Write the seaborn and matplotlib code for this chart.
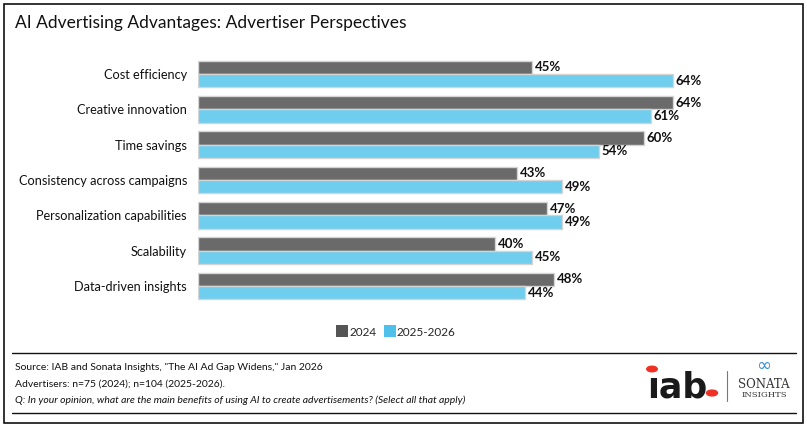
import pandas as pd
import matplotlib.pyplot as plt
import seaborn as sns
from matplotlib.patches import Rectangle, Circle
from matplotlib.lines import Line2D

# Data
benefits = ["Cost efficiency", "Creative innovation", "Time savings",
            "Consistency across campaigns", "Personalization capabilities",
            "Scalability", "Data-driven insights"]
years = ["2024", "2025-2026"]
values_2024 = [45, 64, 60, 43, 47, 40, 48]
values_2025 = [64, 61, 54, 49, 49, 45, 44]

df = pd.DataFrame({
    "benefit": benefits * 2,
    "year": [years[0]] * len(benefits) + [years[1]] * len(benefits),
    "value": values_2024 + values_2025,
})

gray = "#6a6a6a"
blue = "#6fcdee"

sns.set_theme(style="white")
plt.rcParams['font.family'] = ['Lato', 'DejaVu Sans']

fig = plt.figure(figsize=(8.07, 4.28), dpi=100)
ax = fig.add_axes([0.2454, 0.2904, 0.736, 0.578])

sns.barplot(data=df, y="benefit", x="value", hue="year", orient="h",
            palette=[gray, blue], saturation=1, width=0.76, edgecolor="#d4d4d4",
            linewidth=1, legend=False, ax=ax)

for cont in ax.containers:
    ax.bar_label(cont, fmt="%d%%", padding=2, fontsize=9.5, fontweight="bold",
                 color="#111111")

ax.set_xlim(0, 80)
ax.set_ylim(6.5, -0.5)
ax.set_xlabel("")
ax.set_ylabel("")
ax.set_xticks([])
ax.tick_params(axis="y", length=0, pad=8, labelsize=9.2, labelcolor="#111111")
sns.despine(ax=ax, left=True, bottom=True, top=True, right=True)

# Title
fig.text(15 / 807, 1 - 23 / 428, "AI Advertising Advantages: Advertiser Perspectives",
         fontsize=12.5, color="#111111", va="center", ha="left")

# Legend
handles = [Line2D([0], [0], marker="s", color="w", markerfacecolor=c,
                  markersize=8, markeredgewidth=0) for c in ["#555555", "#4fc0ea"]]
fig.legend(handles, years, loc="center", bbox_to_anchor=(396 / 807, 1 - 332 / 428),
           ncol=2, frameon=False, fontsize=8.5, handletextpad=0.1,
           columnspacing=0.6, handlelength=1.0)

# Outer border
fig.patches.append(Rectangle((4 / 807, 5 / 428), 799 / 807, 419 / 428,
                             transform=fig.transFigure, fill=False,
                             edgecolor="#111111", linewidth=1.2))

# Footer separators
for yy in [353, 413]:
    fig.add_artist(Line2D([12 / 807, 796 / 807], [1 - yy / 428] * 2,
                          transform=fig.transFigure, color="#111111", linewidth=1))

fig.text(15 / 807, 1 - 368 / 428,
         'Source: IAB and Sonata Insights, "The AI Ad Gap Widens," Jan 2026',
         fontsize=7.5, va="center", color="#111111")
fig.text(15 / 807, 1 - 384 / 428, "Advertisers: n=75 (2024); n=104 (2025-2026).",
         fontsize=7.5, va="center", color="#111111")
fig.text(15 / 807, 1 - 400 / 428,
         "Q: In your opinion, what are the main benefits of using AI to create advertisements? (Select all that apply)",
         fontsize=7.5, va="center", style="italic", color="#111111")

# Logos
fig.text(647 / 807, 1 - 398 / 428, "\u0131ab", fontsize=25, fontweight="bold",
         family="DejaVu Sans", va="baseline", ha="left", color="#1a1a1a")
fig.add_artist(Circle((712 / 807, 1 - 393 / 428), 0.0068, transform=fig.transFigure,
                      color="#ee3124"))
fig.add_artist(Circle((652 / 807, 1 - 369 / 428), 0.0065, transform=fig.transFigure,
                      color="#ee3124"))
fig.add_artist(Line2D([727 / 807, 727 / 807], [1 - 371 / 428, 1 - 401 / 428],
                      transform=fig.transFigure, color="#777777", linewidth=0.8))
fig.text(764 / 807, 1 - 366 / 428, "\u221e", fontsize=13, ha="center", va="center",
         family="DejaVu Sans", color="#3a8fd8")
fig.text(764 / 807, 1 - 384 / 428, "SONATA", fontsize=8.5, ha="center", va="center",
         family="DejaVu Serif", color="#333333")
fig.text(764 / 807, 1 - 395 / 428, "INSIGHTS", fontsize=6, ha="center", va="center",
         family="DejaVu Serif", color="#333333")

plt.savefig("out.png", dpi=100)
